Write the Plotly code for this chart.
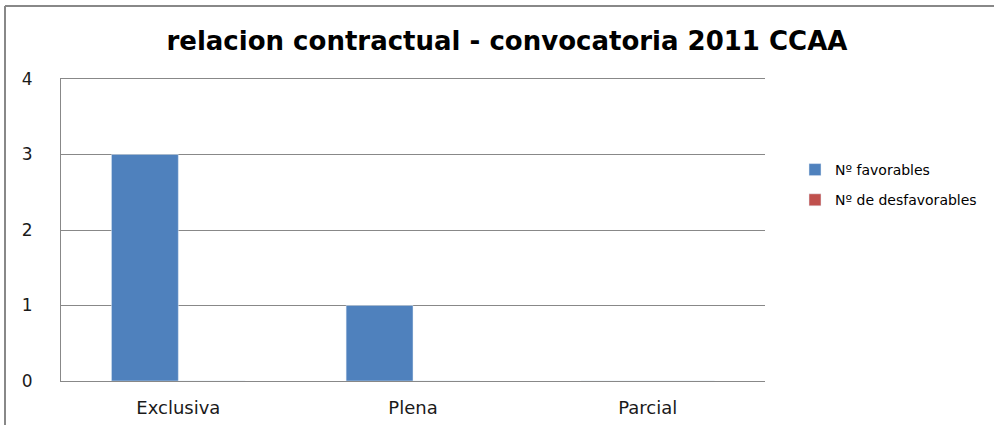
import plotly.graph_objects as go

categories = ["Exclusiva", "Plena", "Parcial"]
favorables = [3, 1, 0]
desfavorables = [0, 0, 0]
y_ticks = [0, 1, 2, 3, 4]

L, R, T, B = 61, 229, 79, 44
W, H = 994, 425
pw, ph = W - L - R, H - T - B

fig = go.Figure()
fig.add_bar(x=categories, y=favorables, name="Nº favorables", marker_color="#4F81BD",
            legendgroup="a")
fig.add_bar(x=categories, y=desfavorables, name="Nº de desfavorables", marker_color="#C0504D",
            legendgroup="b")

font = "DejaVu Sans, sans-serif"
fig.update_layout(
    width=W, height=H,
    margin=dict(l=L, r=R, t=T, b=B, autoexpand=False),
    paper_bgcolor="white", plot_bgcolor="white",
    barmode="group", bargap=0.43, bargroupgap=0,
    title=dict(text="<b>relacion contractual - convocatoria 2011 CCAA</b>",
               x=0.51, xanchor="center", y=1 - 41 / H, yanchor="middle",
               font=dict(family=font, size=26, color="black")),
    font=dict(family=font, color="#1a1a1a"),
    legend=dict(x=(795 - L) / pw, xanchor="left", y=(H - B - 154) / ph, yanchor="top",
                font=dict(size=14, color="black"), itemwidth=30, tracegroupgap=9,
                traceorder="grouped", bgcolor="rgba(0,0,0,0)"),
    showlegend=True,
)
fig.update_xaxes(showline=True, mirror=True, linecolor="#888", linewidth=1, showgrid=False,
                 tickfont=dict(size=18), ticks="", ticklabelstandoff=10, automargin=False)
fig.update_yaxes(range=[0, 4], tickvals=y_ticks, showgrid=True, gridcolor="#888", gridwidth=1,
                 showline=True, linecolor="#888", linewidth=1, zeroline=False,
                 tickfont=dict(size=17), ticks="", ticklabelstandoff=24, automargin=False)

# outer chart border (left and top edges)
fig.add_shape(type="line", xref="paper", yref="paper",
              x0=(5 - L) / pw, x1=(5 - L) / pw, y0=(H - 6 - B) / ph, y1=-B / ph - 0.1,
              line=dict(color="#888", width=2))
fig.add_shape(type="line", xref="paper", yref="paper",
              x0=(5 - L) / pw, x1=(W + 10 - L) / pw, y0=(H - 6 - B) / ph, y1=(H - 6 - B) / ph,
              line=dict(color="#888", width=2))

fig.write_html("out.html", config={"displayModeBar": False},
               post_script="document.body.style.margin='0';document.body.style.overflow='hidden';")
